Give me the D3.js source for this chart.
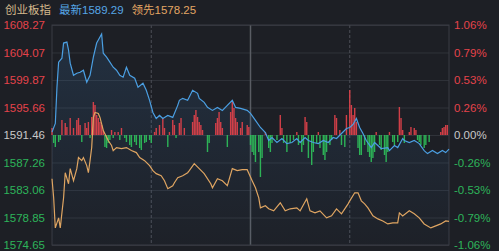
<!DOCTYPE html>
<html>
<head>
<meta charset="utf-8">
<script src="https://cdn.jsdelivr.net/npm/d3@7"></script>
<style>
  html, body { margin: 0; padding: 0; background: #1d1f25; }
  svg { display: block; font-family: "Liberation Sans", "Noto Sans CJK SC", sans-serif; }
</style>
</head>
<body>
<div id="chart"></div>
<script>
// tick labels
const leftTicks = [1608.27, 1604.07, 1599.87, 1595.66, 1591.46, 1587.26, 1583.06, 1578.85, 1574.65];
const rightLabels = ["1.06%", "0.79%", "0.53%", "0.26%", "0.00%", "-0.26%", "-0.53%", "-0.79%", "-1.06%"];
const prevClose = 1591.46;

// index price (最新), minute -> value
const priceMin = [0,2,3,4,6,7,9,10,11,13,15,17,19,21,23,25,27,28,30,31,33,35,37,39,41,43,45,47,50,52,55,57,59,61,63,65,67,70,73,76,77,79,82,85,88,89,92,94,97,100,103,106,109,111,114,118,120,123,126,129,131,133,136,139,142,145,148,150,153,155,158,161,164,167,170,172,175,178,180,182,184,186,188,190,193,195,197,199,203,204,207,209,212,213,216,219,222,225,227,230,233,236,238,240];
const priceVal = [1591.9,1593.23,1598.75,1602.59,1603.2,1605.51,1605.66,1604.43,1602.44,1600.59,1600.9,1601.05,1601.36,1599.52,1600.59,1603.36,1605.51,1605.97,1606.89,1603.97,1603.36,1602.59,1601.82,1601.36,1600.59,1600.29,1601.82,1600.59,1600.13,1598.75,1599.37,1598.29,1596.76,1594.91,1593.99,1594.45,1593.99,1594.45,1594.15,1595.99,1596.76,1597.06,1596.76,1598.29,1597.83,1597.06,1596.45,1595.68,1595.22,1595.68,1595.22,1595.99,1596.76,1595.68,1595.53,1595.22,1594.76,1593.69,1592.61,1591.84,1590.62,1591.08,1590.31,1590.92,1590.15,1590.31,1590.92,1590.31,1591.08,1590.62,1590.31,1590.15,1590.62,1590.31,1591.08,1590.92,1591.69,1592.46,1592.61,1593.07,1593.99,1592.61,1591.69,1590.62,1589.54,1590.31,1589.85,1589.39,1589.54,1589.08,1589.85,1589.54,1590.92,1590.62,1590.31,1590.62,1590.15,1589.08,1588.62,1589.08,1588.62,1589.08,1588.77,1589.29];

// leading index (领先), minute -> value
const leadMin = [0,1,2,4,5,7,8,10,11,13,15,16,18,19,21,22,23,24,25,26,28,29,31,34,36,37,39,42,45,48,51,53,56,59,61,63,66,68,70,73,74,76,79,82,83,86,89,92,96,97,100,103,106,109,112,115,118,121,123,125,126,129,131,134,138,141,144,148,150,154,156,159,162,166,169,172,175,179,180,183,185,187,189,191,194,197,200,203,206,209,210,212,216,219,222,225,229,232,235,238,240];
const leadVal = [1584.78,1581.86,1577.26,1578.79,1577.26,1581.86,1585.7,1584.01,1586.32,1584.47,1586.32,1588.01,1587.54,1588.01,1586.78,1585.7,1587.54,1589.54,1594.15,1594.91,1594.76,1594.15,1592.15,1590.62,1589.85,1589.08,1589.54,1589.39,1589.54,1589.08,1588.77,1588.01,1587.54,1586.78,1586.01,1585.55,1585.24,1584.47,1583.25,1583.71,1584.17,1584.94,1585.24,1585.7,1586.01,1587.08,1586.32,1585.55,1584.01,1583.4,1584.78,1584.47,1583.71,1586.32,1586.01,1586.16,1586.16,1584.47,1583.4,1581.86,1580.33,1580.64,1580.18,1579.87,1581.1,1579.87,1580.18,1580.33,1579.87,1581.71,1579.87,1579.56,1579.87,1578.79,1579.1,1580.18,1579.41,1580.94,1581.4,1582.63,1582.63,1581.4,1580.94,1580.33,1579.1,1578.64,1578.33,1577.87,1578.03,1578.03,1579.56,1579.1,1579.87,1579.41,1578.79,1577.87,1577.26,1577.57,1577.87,1578.33,1578.25];

// red / green strength bars, minute -> value (positive red, negative green)
const barMin = [0,1,2,4,5,6,8,9,11,13,15,16,17,18,20,21,22,23,24,25,26,27,28,29,30,31,32,33,34,35,36,37,38,40,41,42,44,45,47,48,50,51,53,54,56,57,59,60,62,63,65,67,68,70,71,73,74,75,77,78,80,85,86,87,88,89,90,91,94,95,99,100,101,102,103,106,108,109,110,111,112,114,115,118,119,120,121,122,123,125,126,127,129,131,132,133,136,138,139,140,142,144,146,148,149,151,152,153,154,155,157,158,160,161,162,164,165,166,168,169,171,172,174,175,177,178,180,181,182,183,184,185,186,187,189,191,192,193,194,195,196,198,199,201,202,203,204,206,207,209,210,211,212,213,216,217,219,220,221,222,223,225,226,228,235,236,237,238,239];
const barVal = [7,-8,-12,-7,-5,15,12,8,17,7,15,17,10,-7,12,7,13,-3,18,33,30,20,17,13,10,5,-12,-13,-8,-5,5,-3,3,3,-5,7,-3,-7,-10,-12,-7,-10,-13,-15,-8,-7,-5,-8,3,7,10,17,7,-12,3,15,10,-3,12,17,7,13,20,25,18,13,10,5,-17,-8,12,17,23,13,7,-12,23,33,27,17,13,7,13,10,8,-10,-17,-20,-27,-17,-42,-23,3,-13,-17,-8,-5,20,7,-8,-17,-8,-5,3,-10,-17,-10,18,13,-23,-30,-17,-8,3,-13,-20,-25,-17,-10,-5,20,17,5,-10,-12,20,45,30,20,27,13,-13,-20,-20,-10,-17,-22,-27,-23,-17,3,-10,-15,-20,-27,-17,3,-7,-10,-7,28,17,5,-8,3,8,7,5,-5,-7,-10,-13,-10,-7,3,7,8,10,10];

const W = 499, H = 251;
const padL = 52, padR = 449, padT = 25, padB = 245;

const svg = d3.select("#chart").append("svg")
  .attr("width", W)
  .attr("height", H);

const x = d3.scaleLinear().domain([0, 240]).range([padL, padR]);
const y = d3.scaleLinear().domain([1574.65, 1608.27]).range([padB, padT]);
const yBar = d3.scaleLinear().domain([-110, 110]).range([padB, padT]);

const labelColor = v => v > prevClose ? "#e5434b" : (v < prevClose ? "#2db45a" : "#c9c9c9");

// gradient under price line
const defs = svg.append("defs");
const grad = defs.append("linearGradient").attr("id", "pg").attr("x1", 0).attr("y1", 0).attr("x2", 0).attr("y2", 1);
grad.append("stop").attr("offset", "0%").attr("stop-color", "#3c7fc0").attr("stop-opacity", 0.18);
grad.append("stop").attr("offset", "100%").attr("stop-color", "#3c7fc0").attr("stop-opacity", 0.02);

// horizontal grid
svg.append("g")
  .attr("transform", "translate(" + padL + ",0)")
  .call(d3.axisLeft(y).tickValues(leftTicks).tickSize(-(padR - padL)).tickFormat(""))
  .call(g => g.select(".domain").remove())
  .call(g => g.selectAll("line").attr("stroke", "#30333a").attr("stroke-width", 1));

// vertical dividers
[60, 180].forEach(m => {
  svg.append("line")
    .attr("x1", x(m)).attr("x2", x(m)).attr("y1", padT).attr("y2", padB)
    .attr("stroke", "#4c4f57").attr("stroke-dasharray", "3,2");
});
svg.append("line")
  .attr("x1", x(120)).attr("x2", x(120)).attr("y1", padT).attr("y2", padB)
  .attr("stroke", "#595c63").attr("stroke-width", 1.5);

// frame
svg.append("rect")
  .attr("x", padL).attr("y", padT)
  .attr("width", padR - padL).attr("height", padB - padT)
  .attr("fill", "none").attr("stroke", "#3a3d44");

const pricePts = priceMin.map((m, i) => [m, priceVal[i]]);
const leadPts = leadMin.map((m, i) => [m, leadVal[i]]);
const barPts = barMin.map((m, i) => [m, barVal[i]]);

// area under price
svg.append("path")
  .datum(pricePts)
  .attr("fill", "url(#pg)")
  .attr("d", d3.area().x(d => x(d[0])).y0(padB).y1(d => y(d[1])));

// bars
svg.append("g")
  .selectAll("rect")
  .data(barPts)
  .enter()
  .append("rect")
  .attr("x", d => x(d[0]) - 0.7)
  .attr("width", 1.4)
  .attr("y", d => d[1] > 0 ? yBar(d[1]) : yBar(0))
  .attr("height", d => Math.abs(yBar(d[1]) - yBar(0)))
  .attr("fill", d => d[1] > 0 ? "#e5434b" : "#2fc25b")
  .attr("opacity", 0.9);

// lines
svg.append("path")
  .datum(leadPts)
  .attr("fill", "none")
  .attr("stroke", "#dfa562")
  .attr("stroke-width", 1.2)
  .attr("d", d3.line().x(d => x(d[0])).y(d => y(d[1])));

svg.append("path")
  .datum(pricePts)
  .attr("fill", "none")
  .attr("stroke", "#4b9fe2")
  .attr("stroke-width", 1.2)
  .attr("d", d3.line().x(d => x(d[0])).y(d => y(d[1])));

// left axis
svg.append("g")
  .attr("transform", "translate(" + (padL - 4) + ",0)")
  .call(d3.axisLeft(y).tickValues(leftTicks).tickSize(0).tickFormat(d => d.toFixed(2)))
  .call(g => g.select(".domain").remove())
  .call(g => g.selectAll("text")
    .attr("font-size", "11.5px")
    .attr("font-family", "Liberation Sans, sans-serif")
    .attr("fill", d => labelColor(d)));

// right axis
svg.append("g")
  .attr("transform", "translate(" + (padR + 2) + ",0)")
  .call(d3.axisRight(y).tickValues(leftTicks).tickSize(0).tickFormat((d, i) => rightLabels[i]))
  .call(g => g.select(".domain").remove())
  .call(g => g.selectAll("text")
    .attr("font-size", "11.5px")
    .attr("font-family", "Liberation Sans, sans-serif")
    .attr("fill", d => labelColor(d)));

// header
const head = svg.append("text").attr("x", 5).attr("y", 14).attr("font-size", "11.5px");
head.append("tspan").attr("fill", "#d3b88c").text("创业板指");
head.append("tspan").attr("dx", 8).attr("fill", "#55a6e6").text("最新" + priceVal[priceVal.length - 1].toFixed(2));
head.append("tspan").attr("dx", 8).attr("fill", "#e2a664").text("领先" + leadVal[leadVal.length - 1].toFixed(2));
</script>
</body>
</html>
